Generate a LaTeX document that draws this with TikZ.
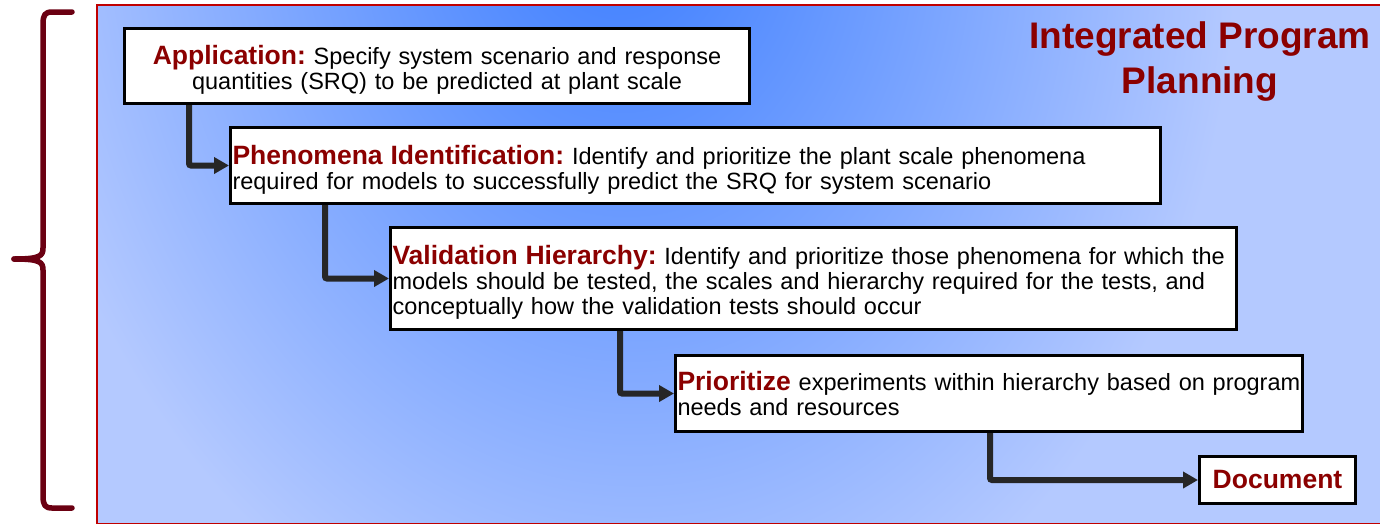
\documentclass[tikz,border=0pt]{standalone}
\usepackage{fontspec}
\setmainfont{Liberation Sans}
\usetikzlibrary{arrows.meta}
\definecolor{hdred}{HTML}{8B0000}
\definecolor{bracered}{HTML}{6B0012}
\definecolor{panelred}{HTML}{C00000}
\definecolor{bgin}{HTML}{3A7CFF}
\definecolor{bgout}{HTML}{B4C9FF}
\definecolor{arrowgray}{HTML}{262626}
\newcommand\hd[1]{{\fontsize{26.5}{25}\selectfont\bfseries\color{hdred}#1}}
\newcommand\highstart{\rule{0pt}{27pt}}
\begin{document}
\frenchspacing
\begin{tikzpicture}[x=1pt,y=-1pt,
  stepbox/.style={draw=black, line width=3pt, fill=white, anchor=north west,
    inner xsep=2pt, inner ysep=0pt, align=left, font=\fontsize{23.5}{25}\selectfont},
  flow/.style={draw=arrowgray, line width=6pt, rounded corners=2pt,
    -{Triangle[length=15pt,width=16pt]}},
  bracestyle/.style={draw=bracered, line width=5.5pt, line cap=round, line join=round},
]
\useasboundingbox (0,0) rectangle (1380,523);
% background panel
\begin{scope}
  \clip (97,5) rectangle (1380,523);
  \fill[bgout] (97,5) rectangle (1380,523);
  \begin{scope}[transform canvas={rotate around={5:(615,-100)}}]
    \shade[inner color=bgin, outer color=bgout] (615,-100) ellipse (620 and 800);
  \end{scope}
\end{scope}
\draw[panelred, line width=2pt] (97,5) rectangle (1385,524);
% brace
\draw[bracestyle] (72,12) -- (52,12) .. controls (45,12) and (43,15) .. (43,24)
  -- (43,248) .. controls (43,256) and (40,259) .. (14,259);
\draw[bracestyle] (14,259) .. controls (40,259) and (43,262) .. (43,270)
  -- (43,496) .. controls (43,505) and (45,508) .. (52,508) -- (72,508);
% title
\node[font=\fontsize{37}{45}\selectfont\bfseries, text=hdred, align=center] (title) at (1200,62)
  {Integrated Program\\Planning};
% boxes
\node[stepbox, align=center, text width=621pt, minimum height=75pt] (app) at (123,27)
  {\mbox{\highstart\hd{Application:} Specify system scenario and response}\\
   \mbox{quantities (SRQ) to be predicted at plant scale}};
\node[stepbox, text width=926pt, minimum height=76pt] (phen) at (229,126)
  {\mbox{\highstart\hd{Phenomena Identification:} Identify and prioritize the plant scale phenomena}\\
   \mbox{required for models to successfully predict the SRQ for system scenario}};
\node[stepbox, text width=842pt, minimum height=102pt] (val) at (389,226)
  {\mbox{\highstart\hd{Validation Hierarchy:} Identify and prioritize those phenomena for which the}\\
   \mbox{models should be tested, the scales and hierarchy required for the tests, and}\\
   \mbox{conceptually how the validation tests should occur}};
\node[stepbox, text width=623pt, minimum height=76pt] (prio) at (674,354)
  {\mbox{\hd{Prioritize} experiments within hierarchy based on program}\\
   \mbox{needs and resources}};
\node[stepbox, align=center, minimum width=156pt, minimum height=47pt] (doc) at (1198,455)
  {\hd{Document}};
% connectors
\draw[flow] ([xshift=66pt]app.south west) |- (phen.west);
\draw[flow] ([xshift=96pt]phen.south west) |- (val.west);
\draw[flow] ([xshift=231pt]val.south west) |- (prio.west);
\draw[flow] ([xshift=316pt]prio.south west) |- (doc.west);
\end{tikzpicture}
\end{document}
